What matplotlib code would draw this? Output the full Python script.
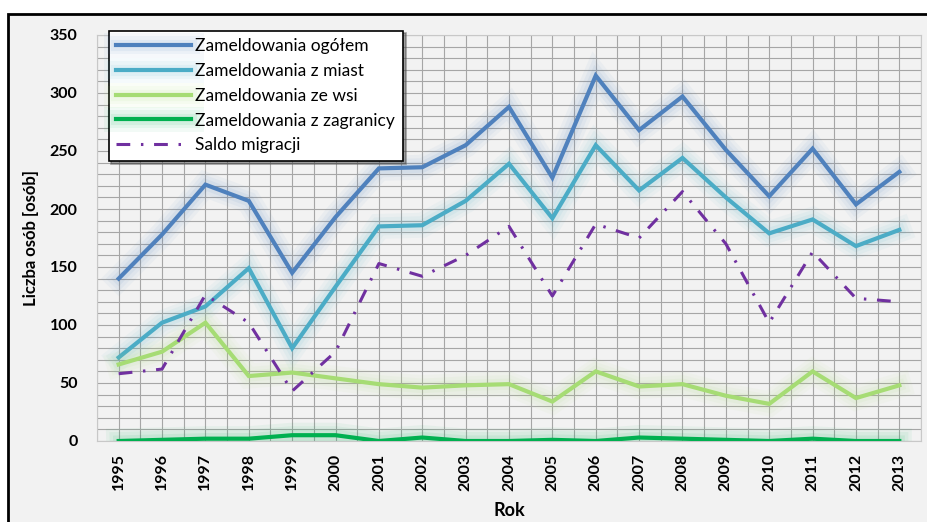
import matplotlib.pyplot as plt
import matplotlib.patheffects as pe
from matplotlib.patches import Rectangle
from matplotlib.ticker import MultipleLocator

plt.rcParams['font.family'] = ['Lato', 'DejaVu Sans']

years = [1995, 1996, 1997, 1998, 1999, 2000, 2001, 2002, 2003, 2004,
         2005, 2006, 2007, 2008, 2009, 2010, 2011, 2012, 2013]
ogolem = [140, 178, 221, 207, 145, 193, 235, 236, 255, 288,
          227, 315, 268, 297, 251, 211, 252, 204, 232]
miasta = [72, 102, 116, 149, 80, 133, 185, 186, 207, 239,
          192, 255, 216, 244, 210, 179, 191, 168, 182]
wies = [66, 77, 102, 56, 59, 54, 49, 46, 48, 49,
        34, 60, 47, 49, 39, 32, 60, 37, 48]
zagranica = [0, 1, 2, 2, 5, 5, 0, 3, 0, 0,
             1, 0, 3, 2, 1, 0, 2, 0, 0]
saldo = [58, 62, 126, 102, 43, 77, 153, 142, 160, 185,
         125, 187, 175, 215, 170, 102, 163, 123, 120]

fig = plt.figure(figsize=(9.28, 5.22), dpi=100)
fig.patch.set_facecolor('white')
# ramka wykresu
fig.patches.append(Rectangle((8 / 928, -0.05), 1.0, 1 - 14 / 522 + 0.05,
                             transform=fig.transFigure, facecolor='#f2f2f2',
                             edgecolor='black', linewidth=2, zorder=-5))

ax = fig.add_axes([97 / 928, 1 - 441 / 522, (921 - 97) / 928, (441 - 35) / 522])
ax.set_facecolor('#f2f2f2')

x = list(range(len(years)))

def glow(color):
    # miekka poswiata wokol linii
    return [pe.Stroke(linewidth=18, foreground=color, alpha=0.05),
            pe.Stroke(linewidth=13, foreground=color, alpha=0.06),
            pe.Stroke(linewidth=8, foreground=color, alpha=0.08),
            pe.Normal()]

ax.plot(x, ogolem, color='#4f81bd', lw=3, label='Zameldowania ogółem',
        path_effects=glow('#4f81bd'), zorder=5, solid_joinstyle='miter')
ax.plot(x, miasta, color='#4bacc6', lw=3, label='Zameldowania z miast',
        path_effects=glow('#4bacc6'), zorder=5, solid_joinstyle='miter')
ax.plot(x, wies, color='#a6dc74', lw=3, label='Zameldowania ze wsi',
        path_effects=glow('#a6dc74'), zorder=5, solid_joinstyle='miter')
ax.plot(x, zagranica, color='#00b050', lw=3, label='Zameldowania z zagranicy',
        path_effects=glow('#00b050'), zorder=5, solid_joinstyle='miter')
ax.plot(x, saldo, color='#7030a0', lw=2.2, label='Saldo migracji',
        dashes=(4.5, 3.5, 0.8, 3.5), zorder=6)

ax.set_xlim(-0.5, len(years) - 0.5)
ax.set_ylim(0, 350)
ax.set_xticks(x)
ax.set_xticklabels([str(y) for y in years], rotation=90, fontweight='bold', fontsize=11.5)
ax.xaxis.set_minor_locator(MultipleLocator(0.5))
ax.yaxis.set_major_locator(MultipleLocator(50))
ax.yaxis.set_minor_locator(MultipleLocator(10))
for lab in ax.get_yticklabels():
    lab.set_fontweight('bold')
    lab.set_fontsize(11.5)
ax.tick_params(which='both', length=0)
ax.tick_params(axis='x', pad=9)
ax.tick_params(axis='y', pad=14)
ax.grid(which='both', color='#a6a6a6', linewidth=0.8)
ax.set_axisbelow(True)
for s in ax.spines.values():
    s.set_color('#c8c8c8')

ax.set_ylabel('Liczba osób [osób]', fontweight='bold', fontsize=12, labelpad=8)
ax.set_xlabel('Rok', fontweight='bold', fontsize=13, labelpad=8)

leg = ax.legend(loc='upper left', bbox_to_anchor=(100 / 928, 1 - 22 / 522),
                bbox_transform=fig.transFigure, fontsize=12.5, handlelength=4.3,
                fancybox=False, shadow=True, framealpha=1, edgecolor='black',
                borderpad=0.45, labelspacing=0.5, handletextpad=0.25)
leg.get_frame().set_linewidth(1.2)
leg.set_zorder(10)

fig.savefig('out.png', dpi=100)
